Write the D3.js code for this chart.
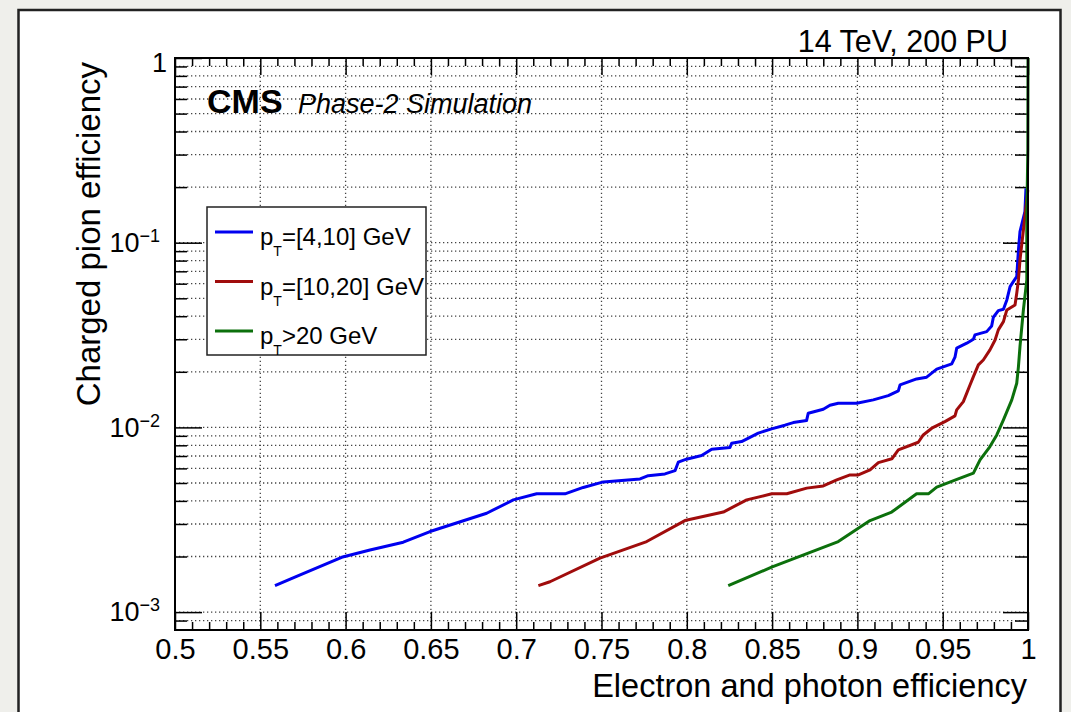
<!DOCTYPE html>
<html>
<head>
<meta charset="utf-8">
<script src="https://cdn.jsdelivr.net/npm/d3@7"></script>
<style>
	html, body { margin: 0; padding: 0; background: #efefeb; }
	svg { display: block; font-family: 'Liberation Sans', Arial, Helvetica, sans-serif; }
</style>
</head>
<body>
<svg id="roc" width="1071" height="712"></svg>
<script>
// pT = [4,10] GeV
const lowPtElectronEff = [0.5586, 0.5713, 0.5977, 0.6143, 0.6338, 0.6495, 0.6827, 0.6983, 0.712, 0.7286, 0.7393, 0.7511, 0.7726, 0.7774, 0.7872, 0.7931, 0.795, 0.7998, 0.8087, 0.8146, 0.8253, 0.8263, 0.8321, 0.8419, 0.8497, 0.8575, 0.8624, 0.8702, 0.8712, 0.88, 0.8839, 0.8888, 0.8996, 0.9093, 0.9181, 0.924, 0.925, 0.9347, 0.9406, 0.9465, 0.9553, 0.9572, 0.9582, 0.9641, 0.968, 0.9689, 0.9758, 0.9787, 0.9797, 0.9826, 0.9856, 0.9876, 0.9895, 0.9914, 0.9934, 0.9944, 0.9953, 0.9982, 0.9988];
const lowPtPionEff = [0.00139, 0.00156, 0.00198, 0.00217, 0.00239, 0.00273, 0.00343, 0.00405, 0.00437, 0.00437, 0.00473, 0.00507, 0.00526, 0.00548, 0.0056, 0.00583, 0.00648, 0.00673, 0.00704, 0.00762, 0.00778, 0.00821, 0.00838, 0.00931, 0.00982, 0.01028, 0.01062, 0.01089, 0.01194, 0.01255, 0.01318, 0.01352, 0.01352, 0.01409, 0.01487, 0.01577, 0.017, 0.0183, 0.0187, 0.02066, 0.02207, 0.02399, 0.02684, 0.02857, 0.03001, 0.03168, 0.033, 0.03541, 0.03948, 0.04285, 0.04362, 0.04899, 0.05781, 0.06151, 0.06548, 0.0913, 0.1147, 0.1472, 0.1968];

// pT = [10,20] GeV
const midPtElectronEff = [0.713, 0.7198, 0.7491, 0.7765, 0.7989, 0.8214, 0.8351, 0.8498, 0.8586, 0.8703, 0.88, 0.8879, 0.8957, 0.9006, 0.9074, 0.9123, 0.9202, 0.924, 0.9357, 0.9386, 0.9436, 0.9513, 0.9572, 0.9582, 0.9621, 0.9641, 0.966, 0.968, 0.9709, 0.9738, 0.9777, 0.9807, 0.9826, 0.9856, 0.9876, 0.9924, 0.9934, 0.9944, 0.9953, 0.9973, 0.9999];
const midPtPionEff = [0.00139, 0.00146, 0.00196, 0.00241, 0.00313, 0.00348, 0.00405, 0.00437, 0.00437, 0.00469, 0.00482, 0.0052, 0.00553, 0.00553, 0.00589, 0.00645, 0.00676, 0.00755, 0.00831, 0.0091, 0.0099, 0.01075, 0.01154, 0.01244, 0.0138, 0.01532, 0.01698, 0.01884, 0.0218, 0.02318, 0.02627, 0.02974, 0.03373, 0.03739, 0.04325, 0.04603, 0.05321, 0.06285, 0.08058, 0.1172, 0.1928];

// pT > 20 GeV
const highPtElectronEff = [0.8243, 0.8497, 0.8888, 0.9074, 0.9201, 0.9347, 0.9416, 0.9465, 0.9591, 0.968, 0.9719, 0.9777, 0.9817, 0.9856, 0.9905, 0.9934, 0.9944, 0.9953, 0.9973, 0.9993, 0.9993, 0.9999, 1.0];
const highPtPionEff = [0.00139, 0.00175, 0.00241, 0.00313, 0.00348, 0.00437, 0.00437, 0.00475, 0.00526, 0.00565, 0.00667, 0.00787, 0.0091, 0.01099, 0.01409, 0.01734, 0.02134, 0.02735, 0.04323, 0.06285, 0.1383, 0.3175, 1.0];

const seriesLabels = ['=[4,10] GeV', '=[10,20] GeV', '>20 GeV'];
const seriesColors = ['#0000f0', '#a00c0c', '#0c700c'];

const xTicks = [0.5, 0.55, 0.6, 0.65, 0.7, 0.75, 0.8, 0.85, 0.9, 0.95, 1];
const xTickLabels = ['0.5', '0.55', '0.6', '0.65', '0.7', '0.75', '0.8', '0.85', '0.9', '0.95', '1'];
const yDecades = [1e-3, 1e-2, 1e-1, 1];
const yExponents = [-3, -2, -1, 0];

const svg = d3.select('#roc');

svg.append('rect')
	.attr('x', 18.5)
	.attr('y', 10)
	.attr('width', 1042)
	.attr('height', 720)
	.attr('fill', '#fff')
	.attr('stroke', '#222')
	.attr('stroke-width', 2.5);

const x = d3.scaleLinear().domain([0.5, 1]).range([175, 1028]);
const y = d3.scaleLog().domain([8e-4, 1]).range([630, 58]);

// minor ticks
const xMinor = d3.range(50, 101).map((v) => v / 100).filter((v) => !xTicks.some((t) => Math.abs(t - v) < 1e-9));
const yMinor = [];
[1e-4, 1e-3, 1e-2, 1e-1].forEach((dec) => {
	for (let m = 2; m <= 9; m++) {
		const v = m * dec;
		if (v > 8.01e-4 && v < 1) yMinor.push(v);
	}
});

// grid
const grid = svg.append('g')
	.attr('stroke', '#444')
	.attr('stroke-width', 1.3)
	.attr('stroke-dasharray', '1.3 2.7');

grid.selectAll('.vgrid')
	.data(xTicks.slice(1, -1))
	.join('line')
	.attr('class', 'vgrid')
	.attr('x1', (d) => x(d))
	.attr('x2', (d) => x(d))
	.attr('y1', y.range()[0])
	.attr('y2', y.range()[1]);

grid.selectAll('.hgrid')
	.data(yMinor.concat(yDecades.slice(0, -1)))
	.join('line')
	.attr('class', 'hgrid')
	.attr('x1', x.range()[0])
	.attr('x2', x.range()[1])
	.attr('y1', (d) => y(d))
	.attr('y2', (d) => y(d));

// axes
const styleAxis = (g) => {
	g.select('.domain').remove();
	g.selectAll('.tick line').attr('stroke', '#000').attr('stroke-width', 1.5);
};

svg.append('g')
	.attr('transform', 'translate(0,630)')
	.call(d3.axisBottom(x).tickValues(xTicks).tickSizeInner(-18).tickSizeOuter(0).tickPadding(8)
		.tickFormat((d, i) => xTickLabels[i]))
	.call(styleAxis)
	.call((g) => g.selectAll('text').attr('font-size', 29).attr('fill', '#000'));

svg.append('g')
	.attr('transform', 'translate(0,630)')
	.call(d3.axisBottom(x).tickValues(xMinor).tickSize(-8).tickFormat(''))
	.call(styleAxis);

svg.append('g')
	.attr('transform', 'translate(0,58)')
	.call(d3.axisTop(x).tickValues(xTicks).tickSize(-17).tickFormat(''))
	.call(styleAxis);

svg.append('g')
	.attr('transform', 'translate(0,58)')
	.call(d3.axisTop(x).tickValues(xMinor).tickSize(-8).tickFormat(''))
	.call(styleAxis);

svg.append('g')
	.attr('transform', 'translate(175,0)')
	.call(d3.axisLeft(y).tickValues(yDecades).tickSize(-27).tickPadding(15).tickFormat(''))
	.call(styleAxis)
	.call((g) => g.selectAll('.tick text').each(function (d, i) {
		const t = d3.select(this).attr('font-size', 27).attr('fill', '#000');
		if (yExponents[i] === 0) {
			t.attr('dy', '0.5em').attr('dx', 7).text('1');
			return;
		}
		t.append('tspan').text('10');
		t.append('tspan')
			.attr('font-size', 18)
			.attr('dy', -10)
			.text('\u2212' + Math.abs(yExponents[i]));
	}));

svg.append('g')
	.attr('transform', 'translate(175,0)')
	.call(d3.axisLeft(y).tickValues(yMinor).tickSize(-12).tickFormat(''))
	.call(styleAxis);

svg.append('g')
	.attr('transform', 'translate(1028,0)')
	.call(d3.axisRight(y).tickValues(yDecades).tickSize(-25).tickFormat(''))
	.call(styleAxis);

svg.append('g')
	.attr('transform', 'translate(1028,0)')
	.call(d3.axisRight(y).tickValues(yMinor).tickSize(-13).tickFormat(''))
	.call(styleAxis);

// curves
svg.append('clipPath')
	.attr('id', 'plot-clip')
	.append('rect')
	.attr('x', 175)
	.attr('y', 56)
	.attr('width', 855)
	.attr('height', 574);

const series = [
	d3.zip(lowPtElectronEff, lowPtPionEff),
	d3.zip(midPtElectronEff, midPtPionEff),
	d3.zip(highPtElectronEff, highPtPionEff),
];

const line = d3.line()
	.x((d) => x(d[0]))
	.y((d) => y(d[1]));

svg.append('g')
	.attr('clip-path', 'url(#plot-clip)')
	.selectAll('path')
	.data(series)
	.join('path')
	.attr('d', line)
	.attr('fill', 'none')
	.attr('stroke', (d, i) => seriesColors[i])
	.attr('stroke-width', 3)
	.attr('stroke-linejoin', 'round');

// frame
svg.append('rect')
	.attr('x', 175)
	.attr('y', 58)
	.attr('width', 853)
	.attr('height', 572)
	.attr('fill', 'none')
	.attr('stroke', '#000')
	.attr('stroke-width', 2);

// legend
const legend = svg.append('g');
legend.append('rect')
	.attr('x', 207)
	.attr('y', 207)
	.attr('width', 219)
	.attr('height', 148)
	.attr('fill', '#fff')
	.attr('stroke', '#222')
	.attr('stroke-width', 1.5);

const entry = legend.selectAll('.entry')
	.data(seriesLabels)
	.join('g')
	.attr('class', 'entry')
	.attr('transform', (d, i) => `translate(0,${232 + i * 49.5})`);

entry.append('line')
	.attr('x1', 215)
	.attr('x2', 253)
	.attr('stroke', (d, i) => seriesColors[i])
	.attr('stroke-width', 3);

const label = entry.append('text')
	.attr('x', 260)
	.attr('y', 13)
	.attr('font-size', 24)
	.attr('fill', '#000');
label.append('tspan').text('p');
label.append('tspan').attr('font-size', 14).attr('dy', 11).text('T');
label.append('tspan').attr('dy', -11).text((d) => d);

// labels
svg.append('text')
	.attr('x', 207)
	.attr('y', 113)
	.attr('font-size', 34)
	.attr('font-weight', 'bold')
	.text('CMS');

svg.append('text')
	.attr('x', 298)
	.attr('y', 113)
	.attr('font-size', 27)
	.attr('font-style', 'italic')
	.text('Phase-2 Simulation');

svg.append('text')
	.attr('x', 1008)
	.attr('y', 52)
	.attr('font-size', 30.5)
	.attr('text-anchor', 'end')
	.text('14 TeV, 200 PU');

svg.append('text')
	.attr('x', 1027)
	.attr('y', 697)
	.attr('font-size', 32.5)
	.attr('text-anchor', 'end')
	.text('Electron and photon efficiency');

svg.append('text')
	.attr('transform', 'translate(100,62) rotate(-90)')
	.attr('font-size', 33)
	.attr('text-anchor', 'end')
	.text('Charged pion efficiency');
</script>
</body>
</html>
